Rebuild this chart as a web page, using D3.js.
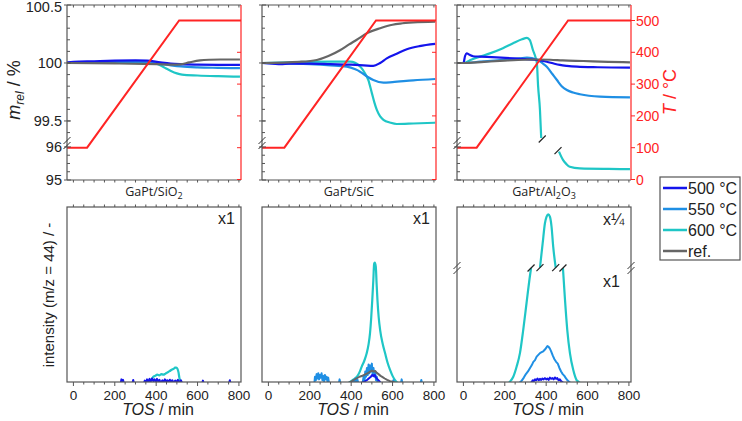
<!DOCTYPE html>
<html><head><meta charset="utf-8">
<script src="https://cdn.jsdelivr.net/npm/d3@7"></script>
<style>
html,body{margin:0;padding:0;background:#fff;}
svg{display:block;font-family:Arial,"Liberation Sans",sans-serif;}
</style></head>
<body><svg id="chart" width="742" height="421"></svg>
<script>
// ---------------- data ----------------
const categories = ["GaPt/SiO_2", "GaPt/SiC", "GaPt/Al_2O_3"];
const seriesNames = ["500 °C", "550 °C", "600 °C", "ref."];
const seriesColors = ["#1414ec", "#1f8fe4", "#1fc6c6", "#666666"];
const tempColor = "#ff2424";
const tosDomain = [-31, 810];
const tosTicks = [0, 200, 400, 600, 800];
const massTicks = [95, 96, 99.5, 100, 100.5];
const massTickLabels = ["95", "96", "99.5", "100", "100.5"];
const tempTicks = [0, 100, 200, 300, 400, 500];
const scaleNotes = [["x1"], ["x1"], ["x¼", "x1"]];

// temperature programme [TOS min, T °C]
const tempSiO2 = [[-31,100],[66,100],[511,500],[810,500]];
const tempSiC  = [[-31,100],[77,100],[520,500],[810,500]];
const tempAl2O3 = [[-31,100],[64,100],[506,500],[810,500]];

// relative mass [TOS min, m_rel %]
const m500_SiO2 = [[-30,100.005],[0,100.01],[100,100.015],[200,100.02],[300,100.022],[356,100.02],[420,100.005],[470,99.995],[516,99.99],[600,99.986],[700,99.984],[805,99.983]];
const m550_SiO2 = [[-30,100.0],[100,100.004],[200,100.007],[300,100.007],[400,99.996],[450,99.985],[520,99.97],[600,99.962],[700,99.958],[805,99.955]];
const m600_SiO2 = [[-30,100.0],[200,100.003],[300,100.003],[380,100.0],[409,99.99],[440,99.96],[467,99.935],[500,99.91],[525,99.9],[600,99.892],[700,99.886],[805,99.882]];
const mRef_SiO2 = [[-30,100.0],[200,99.996],[400,99.99],[480,99.986],[516,99.988],[560,100.005],[612,100.022],[660,100.028],[709,100.03],[805,100.03]];

const m500_SiC = [[-30,100.0],[20,99.995],[60,99.99],[100,99.995],[200,99.995],[300,99.99],[400,99.985],[460,99.98],[507,99.975],[540,100.0],[572,100.04],[620,100.08],[669,100.118],[730,100.145],[806,100.164]];
const m550_SiC = [[-30,100.0],[100,99.995],[200,99.99],[300,99.98],[379,99.968],[420,99.945],[443,99.925],[480,99.88],[507,99.853],[556,99.83],[600,99.835],[700,99.85],[806,99.862]];
const m600_SiC = [[-30,100.0],[100,100.005],[200,100.01],[300,100.012],[395,100.011],[443,99.97],[470,99.9],[483,99.853],[500,99.74],[512,99.66],[524,99.595],[540,99.54],[556,99.51],[590,99.485],[620,99.474],[700,99.478],[806,99.485]];
const mRef_SiC = [[-30,100.0],[150,100.01],[234,100.026],[290,100.06],[346,100.11],[390,100.16],[427,100.2],[480,100.26],[540,100.3],[600,100.33],[637,100.34],[700,100.35],[806,100.357]];

const m500_Al2O3 = [[-30,100.0],[0,100.0],[8,100.06],[15,100.084],[30,100.07],[47,100.058],[80,100.055],[160,100.048],[240,100.04],[300,100.033],[355,100.026],[403,100.011],[440,99.993],[466,99.983],[500,99.975],[549,99.968],[650,99.963],[805,99.96]];
const m550_Al2O3 = [[-30,100.0],[0,100.0],[80,100.011],[180,100.025],[273,100.04],[307,100.046],[355,100.03],[380,100.0],[403,99.968],[430,99.905],[452,99.853],[475,99.8],[500,99.767],[530,99.745],[563,99.73],[660,99.71],[805,99.704]];
const m600_Al2O3_upper = [[-30,100.0],[0,100.0],[40,100.03],[80,100.055],[128,100.083],[191,100.127],[240,100.17],[283,100.204],[307,100.216],[321,100.198],[336,100.112],[350,100.04],[355,100.0],[361,99.8],[370,99.595],[376,99.353]];
const m600_Al2O3_lower = [[462,95.86],[482,95.6],[498,95.48],[514,95.4],[563,95.35],[700,95.335],[805,95.33]];
const mRef_Al2O3 = [[-30,100.0],[0,100.0],[100,100.01],[200,100.02],[300,100.028],[355,100.03],[420,100.028],[480,100.022],[580,100.017],[700,100.01],[805,100.006]];

// CO2 intensity (m/z = 44), arbitrary units [TOS min, intensity]
const i500_SiO2 = [[200,-1],[228,-1],[232,1.5],[236,0],[240,1.2],[244,-1],[285,-1],[289,1.2],[293,-1],[340,-1],[345,0.8],[350,-0.5],[356,1.5],[362,0],[368,1.8],[374,0.3],[380,2],[386,0.5],[392,1.5],[398,0],[404,1.8],[410,0.3],[416,1.2],[422,-0.5],[430,1],[436,0],[442,1.5],[448,0.3],[454,1],[460,0],[466,1.3],[472,0.2],[478,1],[484,-0.5],[492,0.8],[498,0],[505,1.2],[512,-0.5],[520,1],[526,-1],[622,-1],[626,0.8],[630,-1],[752,-1],[756,1],[760,-1],[790,-1]];
const i550_SiO2 = [[-30,-1],[810,-1]];
const i600_SiO2 = [[368,0],[378,1.5],[386,3],[395,3.5],[405,4.2],[415,3.8],[425,4.5],[435,4.2],[445,4.8],[455,5.5],[465,6.2],[475,7],[485,7.6],[492,8.2],[497,8.3],[503,7.5],[508,5.5],[512,2.5],[517,0.5],[522,0]];
const iRef_SiO2 = [[-30,-1],[810,-1]];

const i500_SiC = [[440,-1],[460,0],[475,1],[485,2],[495,3],[502,4],[508,3.5],[514,4],[520,2.5],[528,1.5],[536,0.5],[545,-1]];
const i550_SiC = [[180,-1],[222,-1],[225,3],[229,1],[233,4.5],[237,2],[241,5],[245,1.5],[249,4],[253,2.5],[257,5],[261,1],[265,3.5],[269,0.5],[273,4],[277,1.5],[281,3],[285,0.5],[289,2.5],[293,-1],[340,-1],[344,1.5],[348,-1],[405,-1],[410,1],[415,-0.5],[420,2],[425,0],[430,1.5],[435,-1],[455,-1],[460,3],[465,1],[468,6],[472,3],[476,8],[480,4],[484,10],[488,5],[492,9.5],[496,6],[500,10.5],[504,4],[508,8],[512,3],[516,6],[520,1],[524,3],[528,-1],[600,-1],[604,1],[608,-1],[640,-1],[644,1.5],[648,-1],[735,-1],[739,1.2],[743,-1],[780,-1]];
const i600_SiC = [[380,-1],[395,0],[412,1.5],[428,3],[440,5.5],[451,8.8],[463,12],[475,16.4],[484,21.5],[491,27.8],[497,37],[502,46.9],[507,58],[511,67.5],[514,68.2],[519,65.9],[523,56],[527,46.9],[533,37],[540,29.7],[552,22],[564,16.4],[576,11],[588,6.9],[600,3.5],[612,1.1],[620,0],[635,-1]];
const iRef_SiC = [[380,-1],[395,0],[410,1],[425,2],[440,3],[455,3.6],[468,4.4],[480,5],[490,5.8],[500,6.5],[508,6],[516,6.3],[524,5.2],[532,4.5],[542,3.5],[552,2.8],[562,2],[574,1.2],[588,0.5],[605,0],[620,-1]];

const i500_Al2O3 = [[320,-1],[330,0],[335,1],[340,0.5],[346,1.5],[352,1],[358,2],[364,1],[370,1.8],[376,1.2],[382,2],[388,1.5],[394,2.2],[400,1.5],[406,2],[412,1.2],[418,2.5],[424,1.8],[430,2.2],[436,1.5],[442,2.6],[448,1.8],[454,2.2],[460,1],[466,1.5],[472,0.5],[478,0],[488,-1]];
const i550_Al2O3 = [[265,-1],[275,0],[282,0.8],[292,2.5],[302,4.5],[312,6],[322,8],[330,9.5],[338,11.5],[346,12.5],[354,14.5],[362,15.5],[370,16.5],[378,17],[386,17.5],[394,18.5],[400,19.5],[406,20.5],[412,20],[418,19],[424,17.5],[432,15],[440,13],[448,11.5],[456,10.5],[464,8],[472,6],[480,4.5],[488,3.5],[496,2],[504,0.8],[512,0],[522,-1]];
const i600_Al2O3_left = [[215,-1],[225,0.2],[241,3],[257,8.7],[273,16.3],[289,29.6],[305,44.9],[321,60],[327,65]];
const i600_Al2O3_top = [[370,121],[383,176],[394,222],[402,237],[410,242.5],[418,237],[426,214],[434,168.6],[446,121]];
const i600_Al2O3_right = [[481,65],[491,46.8],[502,29.6],[515,16.3],[531,6.8],[547,1.1],[558,0],[570,-1]];
const iRef_Al2O3 = [[-30,-1],[810,-1]];

// ---------------- layout ----------------
const svg = d3.select("#chart");
const lefts = [67, 262, 457], pw = 174;
const axisCol = "#555";
const xs = lefts.map(l => d3.scaleLinear().domain(tosDomain).range([l, l + pw]));
const yM = d3.scaleLinear().domain([95, 96.12, 99.31, 100.5]).range([180, 143, 143, 5]);
const yT = d3.scaleLinear().domain([0, 500]).range([179.5, 20.5]);
const yI = d3.scaleLinear().domain([0, 100]).range([382, 207]);
const yI3 = d3.scaleLinear().domain([0, 65, 120, 259]).range([382, 268, 268, 207]);
const topBox = [yM.range()[3], yM.range()[0]];
const botBox = [yI.range()[1], yI.range()[0]];

const massSets = [
  [m500_SiO2, m550_SiO2, [m600_SiO2], mRef_SiO2],
  [m500_SiC, m550_SiC, [m600_SiC], mRef_SiC],
  [m500_Al2O3, m550_Al2O3, [m600_Al2O3_upper, m600_Al2O3_lower], mRef_Al2O3]
];
const tempSets = [tempSiO2, tempSiC, tempAl2O3];
const intSets = [
  [i500_SiO2, i550_SiO2, [i600_SiO2], iRef_SiO2],
  [i500_SiC, i550_SiC, [i600_SiC], iRef_SiC],
  [i500_Al2O3, i550_Al2O3, [i600_Al2O3_left, i600_Al2O3_top, i600_Al2O3_right], iRef_Al2O3]
];

const defs = svg.append("defs");
function clip(id, x, y0, y1) {
  defs.append("clipPath").attr("id", id).append("rect")
    .attr("x", x).attr("y", y0).attr("width", pw).attr("height", y1 - y0);
  return "url(#" + id + ")";
}
function slash(g, x, y, len, col) {
  g.append("line").attr("x1", x - len).attr("y1", y + len).attr("x2", x + len).attr("y2", y - len)
    .attr("stroke", col || "#222").attr("stroke-width", 1.2);
}
function axisBreak(g, x, y) {
  [-2.5, 2.5].forEach(o => {
    g.append("line").attr("x1", x - 3.5).attr("y1", y + o + 3.5).attr("x2", x + 3.5).attr("y2", y + o - 3.5)
      .attr("stroke", "#333").attr("stroke-width", 1);
  });
}
function addLabel(sel, txt) {
  let pend = 0;
  txt.split(/(_\d)/).forEach(p => {
    if (!p) return;
    if (p[0] === "_") { sel.append("tspan").attr("font-size", 9).attr("dy", 3 + pend).text(p.slice(1)); pend = -3; }
    else { sel.append("tspan").attr("dy", pend).text(p); pend = 0; }
  });
}

const tickMinor = d3.range(0, 801, 50);

lefts.forEach((L, p) => {
  const x = xs[p];
  const R = L + pw;
  // ---------- top panel ----------
  const gT = svg.append("g");
  const data = gT.append("g").attr("clip-path", clip("ct" + p, L, topBox[0], topBox[1]));
  const massLine = d3.line().x(d => x(d[0])).y(d => yM(d[1])).curve(d3.curveMonotoneX);
  [2, 1, 0, 3].forEach(s => {
    const arrs = Array.isArray(massSets[p][s][0][0]) ? massSets[p][s] : [massSets[p][s]];
    arrs.forEach(a => data.append("path").attr("d", massLine(a)).attr("fill", "none")
      .attr("stroke", seriesColors[s]).attr("stroke-width", 2.2));
  });
  const tLine = d3.line().x(d => x(d[0])).y(d => yT(d[1]));
  data.append("path").attr("d", tLine(tempSets[p])).attr("fill", "none")
    .attr("stroke", tempColor).attr("stroke-width", 2);
  if (p === 2) {
    const a = m600_Al2O3_upper[m600_Al2O3_upper.length - 1], b = m600_Al2O3_lower[0];
    slash(gT, x(a[0]) + 1, yM(a[1]) + 1, 3.5);
    slash(gT, x(b[0]) - 1, yM(b[1]) - 1, 3.5);
  }
  // frame
  gT.append("line").attr("x1", L).attr("x2", R).attr("y1", topBox[0]).attr("y2", topBox[0]).attr("stroke", axisCol).attr("stroke-width", 1.2);
  gT.append("line").attr("x1", L).attr("x2", R).attr("y1", topBox[1]).attr("y2", topBox[1]).attr("stroke", axisCol).attr("stroke-width", 1.2);
  gT.append("line").attr("x1", L).attr("x2", L).attr("y1", topBox[0]).attr("y2", topBox[1]).attr("stroke", axisCol).attr("stroke-width", 1.2);
  gT.append("line").attr("x1", R).attr("x2", R).attr("y1", topBox[0]).attr("y2", topBox[1]).attr("stroke", tempColor).attr("stroke-width", 1.2);
  // x ticks top panel
  tickMinor.forEach(v => {
    gT.append("line").attr("x1", x(v)).attr("x2", x(v)).attr("y1", topBox[1]).attr("y2", topBox[1] + 2.5).attr("stroke", axisCol);
    gT.append("line").attr("x1", x(v)).attr("x2", x(v)).attr("y1", topBox[0]).attr("y2", topBox[0] + 2.5).attr("stroke", axisCol);
  });
  // y ticks (mass)
  const minorM = d3.range(99.4, 100.45, 0.1).concat([95.25, 95.5, 95.75]);
  minorM.forEach(v => gT.append("line").attr("x1", L).attr("x2", L + 3).attr("y1", yM(v)).attr("y2", yM(v)).attr("stroke", axisCol));
  massTicks.forEach((v, i) => {
    gT.append("line").attr("x1", L - 3).attr("x2", L + 4).attr("y1", yM(v)).attr("y2", yM(v)).attr("stroke", axisCol);
    if (p === 0) gT.append("text").attr("x", L - 5).attr("y", Math.max(yM(v), 6.5)).attr("dy", "0.36em")
      .attr("text-anchor", "end").attr("font-size", 14.5).attr("fill", "#222").text(massTickLabels[i]);
  });
  axisBreak(gT, L, 143);
  // temperature axis ticks
  tempTicks.forEach(v => {
    if (p < 2) gT.append("line").attr("x1", R - 4).attr("x2", R).attr("y1", yT(v)).attr("y2", yT(v)).attr("stroke", tempColor);
    else {
      gT.append("line").attr("x1", R).attr("x2", R + 4).attr("y1", yT(v)).attr("y2", yT(v)).attr("stroke", tempColor);
      gT.append("text").attr("x", R + 5).attr("y", yT(v)).attr("dy", "0.36em").attr("font-size", 14)
        .attr("fill", tempColor).text(v);
    }
  });
  // category label
  const ct = svg.append("text").attr("x", L + pw / 2).attr("y", 196).attr("text-anchor", "middle")
    .attr("font-family", "'Open Sans', Arial, sans-serif").attr("font-size", 12.5).attr("fill", "#222");
  addLabel(ct, categories[p]);

  // ---------- bottom panel ----------
  const gB = svg.append("g");
  const yy = p === 2 ? yI3 : yI;
  const dB = gB.append("g").attr("clip-path", clip("cb" + p, L, botBox[0], botBox[1]));
  const intLine = d3.line().x(d => x(d[0])).y(d => yy(d[1]));
  const smooth = d3.line().x(d => x(d[0])).y(d => yy(d[1])).curve(d3.curveMonotoneX);
  const order = p === 1 ? [2, 1, 0, 3] : [2, 1, 3, 0];
  order.forEach(s => {
    const arrs = Array.isArray(intSets[p][s][0][0]) ? intSets[p][s] : [intSets[p][s]];
    arrs.forEach(a => dB.append("path").attr("d", (s === 2 ? smooth : intLine)(a)).attr("fill", "none")
      .attr("stroke", seriesColors[s]).attr("stroke-width", s === 2 ? 2.2 : 2).attr("stroke-linejoin", "round"));
  });
  if (p === 2) {
    const l = i600_Al2O3_left, t = i600_Al2O3_top, r = i600_Al2O3_right;
    [l[l.length - 1], t[0], t[t.length - 1], r[0]].forEach(e => slash(gB, x(e[0]), yI3(e[1]), 3.5));
    axisBreak(gB, L, 268);
    axisBreak(gB, R, 268);
  }
  gB.append("rect").attr("x", L).attr("y", botBox[0]).attr("width", pw).attr("height", botBox[1] - botBox[0])
    .attr("fill", "none").attr("stroke", axisCol).attr("stroke-width", 1.2);
  tickMinor.forEach(v => {
    const big = v % 200 === 0;
    gB.append("line").attr("x1", x(v)).attr("x2", x(v)).attr("y1", botBox[1]).attr("y2", botBox[1] + (big ? 4 : 2.5)).attr("stroke", axisCol);
    gB.append("line").attr("x1", x(v)).attr("x2", x(v)).attr("y1", botBox[0]).attr("y2", botBox[0] - 2.5).attr("stroke", axisCol);
  });
  tosTicks.forEach(v => gB.append("text").attr("x", x(v)).attr("y", 400).attr("text-anchor", "middle")
    .attr("font-size", 13.5).attr("fill", "#222").text(v));
  const xl = svg.append("text").attr("x", L + pw / 2 + 4).attr("y", 415).attr("text-anchor", "middle")
    .attr("font-size", 16).attr("fill", "#222");
  xl.append("tspan").attr("font-style", "italic").text("TOS");
  xl.append("tspan").text(" / min");
  // scale notes
  if (p < 2) svg.append("text").attr("x", R - 6).attr("y", 224).attr("text-anchor", "end")
    .attr("font-size", 16).attr("fill", "#222").text(scaleNotes[p][0]);
  else {
    svg.append("text").attr("x", 603).attr("y", 225).attr("font-size", 16).attr("fill", "#222").text(scaleNotes[p][0]);
    svg.append("text").attr("x", 603).attr("y", 287).attr("font-size", 16).attr("fill", "#222").text(scaleNotes[p][1]);
  }
});

// axis titles
const mt = svg.append("text").attr("transform", "translate(20,90) rotate(-90)").attr("text-anchor", "middle")
  .attr("font-size", 18).attr("fill", "#222");
mt.append("tspan").attr("font-style", "italic").text("m");
mt.append("tspan").attr("font-style", "italic").attr("font-size", 12).attr("dy", 4).text("rel");
mt.append("tspan").attr("dy", -4).text(" / %");

const tt = svg.append("text").attr("transform", "translate(676,92) rotate(-90)").attr("text-anchor", "middle")
  .attr("font-size", 18).attr("fill", tempColor);
tt.append("tspan").attr("font-style", "italic").text("T");
tt.append("tspan").text(" / °C");

svg.append("text").attr("transform", "translate(54,295) rotate(-90)").attr("text-anchor", "middle")
  .attr("font-size", 15).attr("fill", "#222").text("intensity (m/z = 44) / -");

// legend
const lg = svg.append("g");
lg.append("rect").attr("x", 660).attr("y", 177).attr("width", 80).attr("height", 83)
  .attr("fill", "#fff").attr("stroke", axisCol).attr("stroke-width", 1.2);
seriesNames.forEach((n, i) => {
  const y = 188 + i * 21;
  lg.append("line").attr("x1", 663).attr("x2", 687).attr("y1", y).attr("y2", y)
    .attr("stroke", seriesColors[i]).attr("stroke-width", 2.5);
  lg.append("text").attr("x", 688).attr("y", y).attr("dy", "0.36em").attr("font-size", 16).attr("fill", "#222").text(n);
});
</script>
</body></html>
